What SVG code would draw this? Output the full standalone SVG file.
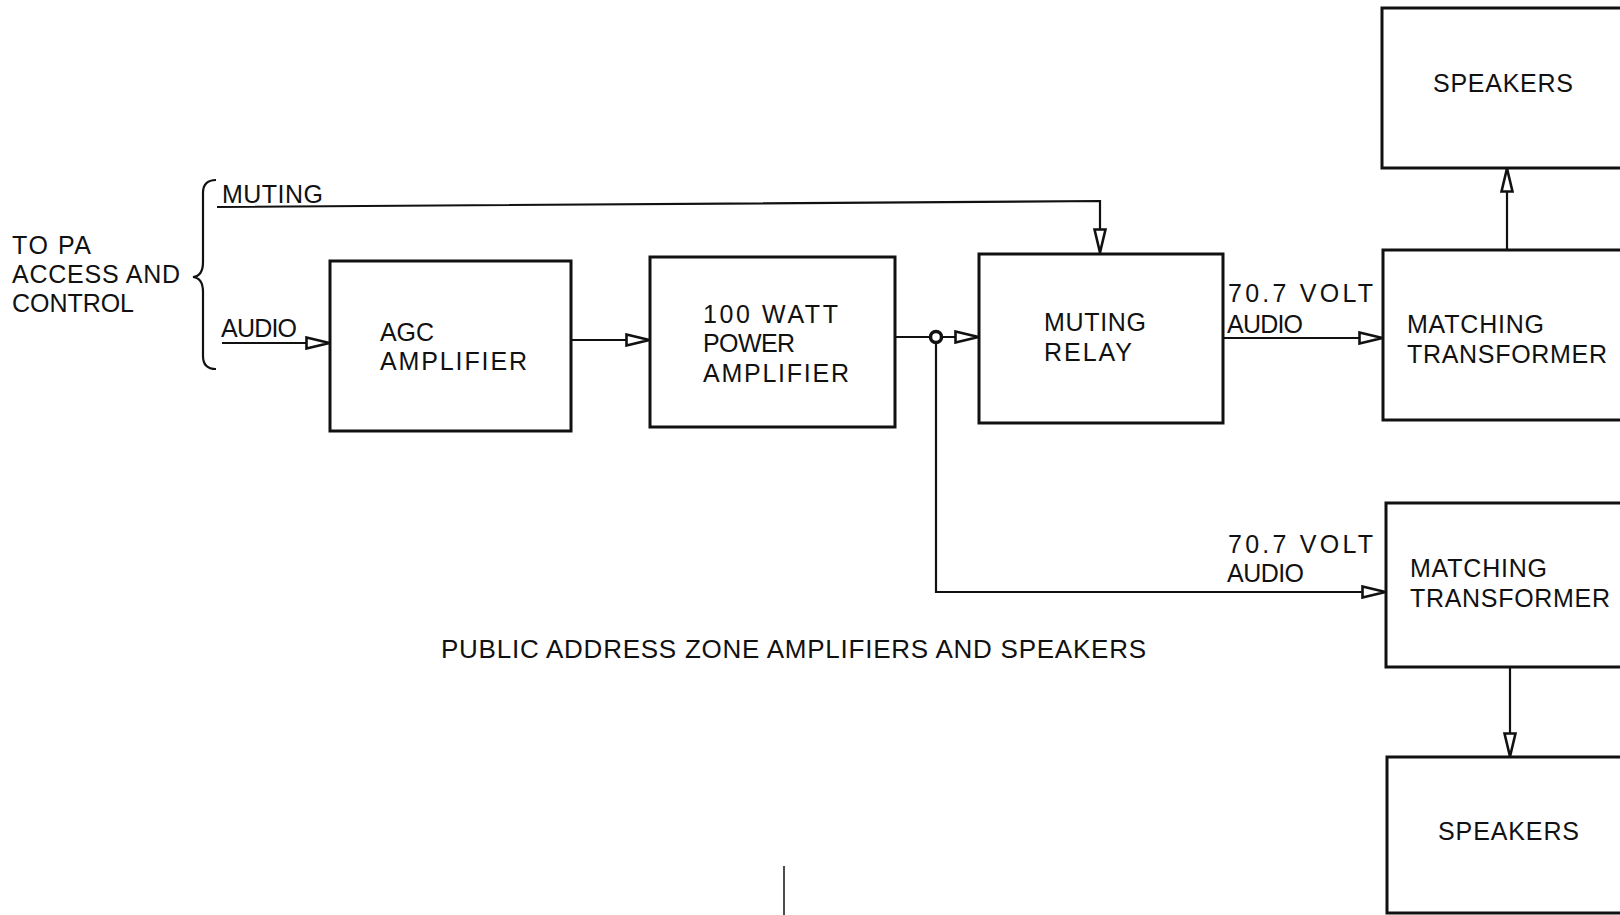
<svg xmlns="http://www.w3.org/2000/svg" width="1620" height="915" viewBox="0 0 1620 915">
<defs>
<style>
.box{fill:#fff;stroke:#111;stroke-width:3}
.wire{fill:none;stroke:#111;stroke-width:2.2}
text{font-family:"Liberation Sans",Arial,sans-serif;font-size:25px;fill:#111}
</style>
<marker id="arr" viewBox="0 0 26 14" refX="25" refY="7" markerWidth="26" markerHeight="14" markerUnits="userSpaceOnUse" orient="auto">
<path d="M1.5,1.5 L24.5,7 L1.5,12.5 Z" fill="#fff" stroke="#111" stroke-width="2.6"/>
</marker>
</defs>
<rect width="1620" height="915" fill="#fff"/>

<g id="input-labels">
<text x="12" y="254" textLength="79">TO PA</text>
<text x="12" y="283" textLength="168">ACCESS AND</text>
<text x="12" y="312" textLength="122">CONTROL</text>
<path class="wire" d="M216,180 Q203,180 203,193 V262 Q203,276 193,277 Q203,278 203,292 V356 Q203,369 216,369"/>
<text x="222" y="203" textLength="101">MUTING</text>
<text x="221" y="337" textLength="76">AUDIO</text>
</g>

<g id="agc">
<rect class="box" x="330" y="261" width="241" height="170"/>
<text x="380" y="341" textLength="54">AGC</text>
<text x="380" y="370" textLength="147">AMPLIFIER</text>
</g>

<g id="power">
<rect class="box" x="650" y="257" width="245" height="170"/>
<text x="703" y="323" textLength="135">100 WATT</text>
<text x="703" y="352" textLength="92">POWER</text>
<text x="703" y="382" textLength="146">AMPLIFIER</text>
</g>

<g id="relay">
<rect class="box" x="979" y="254" width="244" height="169"/>
<text x="1044" y="331" textLength="102">MUTING</text>
<text x="1044" y="361" textLength="88">RELAY</text>
</g>

<g id="mt1">
<rect class="box" x="1383" y="250" width="260" height="170"/>
<text x="1407" y="333" textLength="137">MATCHING</text>
<text x="1407" y="363" textLength="200">TRANSFORMER</text>
</g>

<g id="spk1">
<rect class="box" x="1382" y="8" width="260" height="160"/>
<text x="1433" y="92" textLength="140">SPEAKERS</text>
</g>

<g id="mt2">
<rect class="box" x="1386" y="503" width="260" height="164"/>
<text x="1410" y="577" textLength="137">MATCHING</text>
<text x="1410" y="607" textLength="200">TRANSFORMER</text>
</g>

<g id="spk2">
<rect class="box" x="1387" y="757" width="260" height="156"/>
<text x="1438" y="840" textLength="141">SPEAKERS</text>
</g>

<g id="connectors">
<path class="wire" d="M217,207 L1100,201 V253" marker-end="url(#arr)"/>
<path class="wire" d="M222,343 H330" marker-end="url(#arr)"/>
<path class="wire" d="M571,340 H650" marker-end="url(#arr)"/>
<path class="wire" d="M895,337 H979" marker-end="url(#arr)"/>
<path class="wire" d="M936,343 V592 H1386" marker-end="url(#arr)"/>
<circle cx="936" cy="337" r="5.5" fill="#fff" stroke="#111" stroke-width="3.5"/>
<path class="wire" d="M1223,338 H1383" marker-end="url(#arr)"/>
<path class="wire" d="M1507,250 V168" marker-end="url(#arr)"/>
<path class="wire" d="M1510,667 V757" marker-end="url(#arr)"/>
<text x="1228" y="302" textLength="145">70.7 VOLT</text>
<text x="1227" y="333" textLength="76">AUDIO</text>
<text x="1228" y="553" textLength="145">70.7 VOLT</text>
<text x="1227" y="582" textLength="77">AUDIO</text>
</g>

<text x="441" y="658" textLength="705" style="font-size:26px">PUBLIC ADDRESS ZONE AMPLIFIERS AND SPEAKERS</text>
<path d="M784,866 V915" stroke="#111" stroke-width="1.5"/>
</svg>
